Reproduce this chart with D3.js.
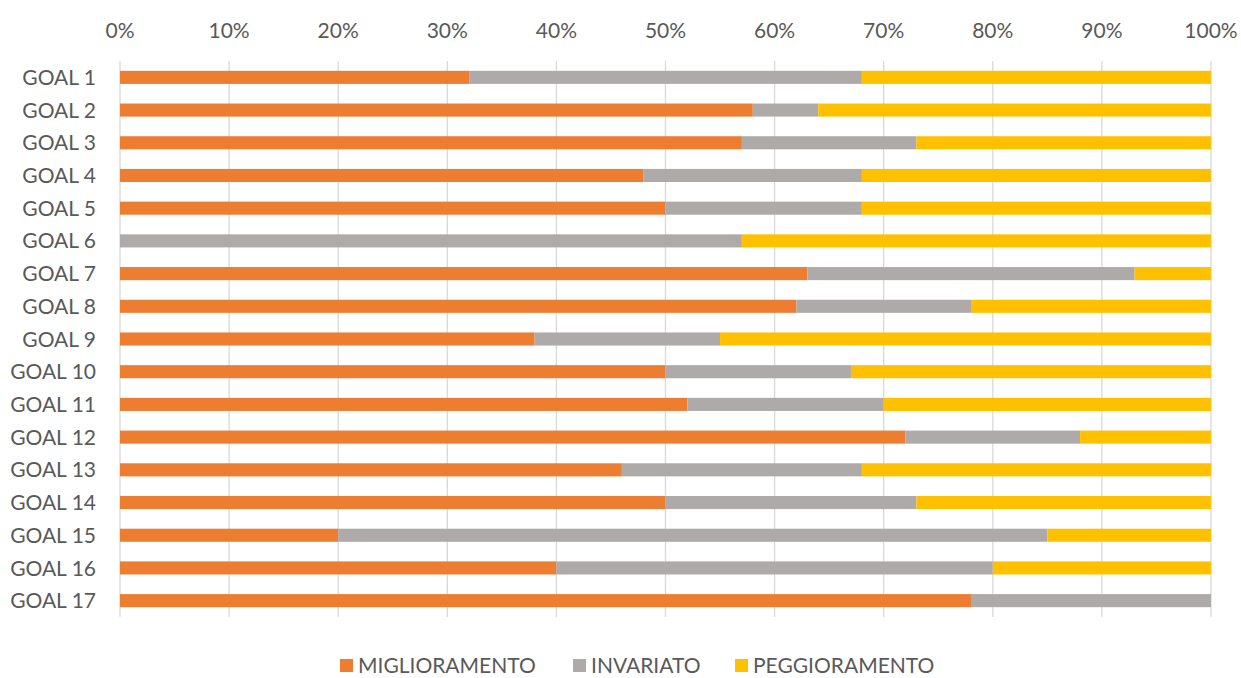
<!DOCTYPE html>
<html>
<head>
<meta charset="utf-8">
<script src="https://cdn.jsdelivr.net/npm/d3@7"></script>
<style>
  body { margin: 0; background: #fff; }
  text { font-family: Lato, "Open Sans", sans-serif; fill: #595959; }
</style>
</head>
<body>
<svg width="1241" height="678"></svg>
<script>
// values (percent of each goal)
const goals = ["GOAL 1", "GOAL 2", "GOAL 3", "GOAL 4", "GOAL 5", "GOAL 6", "GOAL 7", "GOAL 8", "GOAL 9",
  "GOAL 10", "GOAL 11", "GOAL 12", "GOAL 13", "GOAL 14", "GOAL 15", "GOAL 16", "GOAL 17"];
const seriesNames = ["MIGLIORAMENTO", "INVARIATO", "PEGGIORAMENTO"];
const miglioramento = [32, 58, 57, 48, 50, 0, 63, 62, 38, 50, 52, 72, 46, 50, 20, 40, 78];
const invariato = [36, 6, 16, 20, 18, 57, 30, 16, 17, 17, 18, 16, 22, 23, 65, 40, 22];
const peggioramento = [32, 36, 27, 32, 32, 43, 7, 22, 45, 33, 30, 12, 32, 27, 15, 20, 0];
const ticks = [0, 0.1, 0.2, 0.3, 0.4, 0.5, 0.6, 0.7, 0.8, 0.9, 1];
const colors = ["#ED7D31", "#AEAAAA", "#FFC000"];

var svg = d3.select("svg");
var rows = goals.map((g, i) => ({
  goal: g,
  MIGLIORAMENTO: miglioramento[i],
  INVARIATO: invariato[i],
  PEGGIORAMENTO: peggioramento[i],
}));
var stack = d3.stack().keys(seriesNames).offset(d3.stackOffsetExpand)(rows);

var x = d3.scaleLinear().domain([0, 1]).range([120, 1211]);
var y = d3.scaleBand().domain(goals).range([61, 617]).paddingInner(0.6).paddingOuter(0.3);
var color = d3.scaleOrdinal().domain(seriesNames).range(colors);

// gridlines
svg.append("g")
  .selectAll("line")
  .data(ticks)
  .enter()
  .append("line")
  .attr("x1", (d) => x(d))
  .attr("x2", (d) => x(d))
  .attr("y1", 61)
  .attr("y2", 617)
  .attr("stroke", "#D9D9D9")
  .attr("stroke-width", 1.3);

// top axis labels
svg.append("g")
  .selectAll("text")
  .data(ticks)
  .enter()
  .append("text")
  .attr("x", (d) => x(d))
  .attr("y", 30)
  .attr("dy", "0.36em")
  .attr("text-anchor", "middle")
  .attr("font-size", "21px")
  .text(d3.format(".0%"));

// goal labels
svg.append("g")
  .selectAll("text")
  .data(goals)
  .enter()
  .append("text")
  .attr("x", 96)
  .attr("y", (d) => y(d) + y.bandwidth() / 2)
  .attr("dy", "0.36em")
  .attr("text-anchor", "end")
  .attr("font-size", "21px")
  .text((d) => d);

// bars
svg.append("g")
  .selectAll("g")
  .data(stack)
  .enter()
  .append("g")
  .attr("fill", (d) => color(d.key))
  .selectAll("rect")
  .data((d) => d)
  .enter()
  .append("rect")
  .attr("x", (d) => x(d[0]))
  .attr("y", (d) => y(d.data.goal))
  .attr("width", (d) => x(d[1]) - x(d[0]))
  .attr("height", y.bandwidth());

// legend
var legendX = [340, 573, 735];
var legend = svg.append("g")
  .selectAll("g")
  .data(seriesNames)
  .enter()
  .append("g")
  .attr("transform", (d, i) => `translate(${legendX[i]},659)`);

legend.append("rect")
  .attr("width", 13)
  .attr("height", 13)
  .attr("fill", (d) => color(d));

legend.append("text")
  .attr("x", 18)
  .attr("y", 7)
  .attr("dy", "0.33em")
  .attr("font-size", "21px")
  .text((d) => d);
</script>
</body>
</html>
